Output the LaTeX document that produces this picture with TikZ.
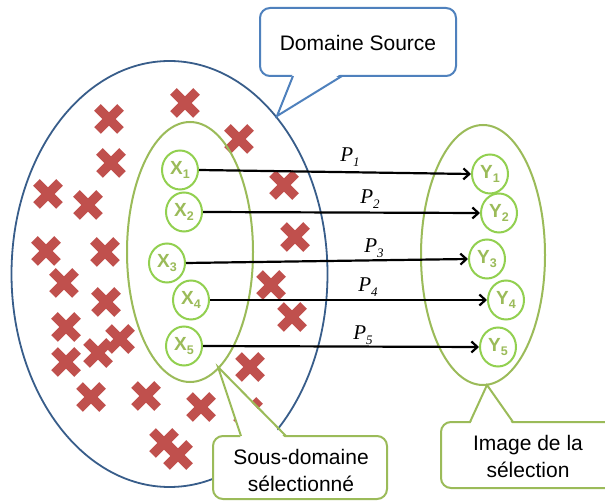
\documentclass[tikz,border=0pt]{standalone}
\usepackage{fontspec}
\setmainfont{Liberation Sans}
\newfontfamily\seriffam{Liberation Serif}
\usetikzlibrary{arrows.meta,shapes.geometric}
\definecolor{crossred}{HTML}{C0504D}
\definecolor{olivegreen}{HTML}{9BBB59}
\definecolor{circgreen}{HTML}{92D050}
\definecolor{darkblue}{HTML}{385D8A}
\definecolor{calloutblue}{HTML}{4F81BD}
\tikzset{
  redx/.pic={\draw[crossred, line width=9.5pt, line cap=butt] (-11.5,-11.5) -- (11.5,11.5) (-11.5,11.5) -- (11.5,-11.5);},
  xnode/.style={ellipse, draw=circgreen, line width=2pt, minimum width=36pt, minimum height=39pt,
    inner sep=0pt, text=olivegreen, font=\bfseries\fontsize{19}{19}\selectfont},
  selell/.style={draw=olivegreen, line width=2pt},
  maparrow/.style={draw=black, line width=2.2pt, -{Straight Barb[length=6pt,width=11pt]}},
  plabel/.style={font=\seriffam\itshape\fontsize{21}{21}\selectfont, inner sep=0pt},
  calltext/.style={align=center, font=\fontsize{21}{27}\selectfont, inner sep=0pt},
}
\newcommand\sub[1]{\raisebox{-4pt}{\fontsize{12.5}{12.5}\selectfont #1}}
\newcommand\psub[1]{\raisebox{-4.5pt}{\fontsize{13}{13}\selectfont\itshape #1}}
\begin{document}
\begin{tikzpicture}[x=1pt,y=-1pt]
\useasboundingbox (0,0) rectangle (605,502);
\fill[white] (0,0) rectangle (605,502);
% source domain
\draw[darkblue, line width=1.8pt] (169.5,274) ellipse [x radius=158, y radius=213];
% crosses
\foreach \p in {(185,103),(109,119),(239,139),(111,163),(48,194),(88,205),(284,185),(295,237),
  (46,251),(105,252),(64,283),(106,302),(271,285),(292,317),(66,327),(120,339),(98,353),(66,362),
  (250,367),(91,397),(146,396),(201,407),(164,443),(178,455),(248,412)}
  \pic at \p {redx};
% selection ellipses
\draw[selell] (190,252) ellipse [x radius=63, y radius=130];
\draw[selell] (483,255) ellipse [x radius=62, y radius=130];
% nodes
\node[xnode] (x1) at (180,170) {X\sub{1}};
\node[xnode] (x2) at (184,212) {X\sub{2}};
\node[xnode] (x3) at (167,263) {X\sub{3}};
\node[xnode] (x4) at (191,300) {X\sub{4}};
\node[xnode] (x5) at (184,346) {X\sub{5}};
\node[xnode] (y1) at (490,174) {Y\sub{1}};
\node[xnode] (y2) at (499,213) {Y\sub{2}};
\node[xnode] (y3) at (487,259) {Y\sub{3}};
\node[xnode] (y4) at (506,300) {Y\sub{4}};
\node[xnode] (y5) at (498,347) {Y\sub{5}};
% arrows
\draw[maparrow] (x1.east) -- (y1.west);
\draw[maparrow] (x2.east) -- (y2.west);
\draw[maparrow] (x3.east) -- (y3.west);
\draw[maparrow] (x4.east) -- (y4.west);
\draw[maparrow] (x5.east) -- (y5.west);
\node[plabel] (p1) at (350,157) {P\psub{1}};
\node[plabel] (p2) at (370,199) {P\psub{2}};
\node[plabel] (p3) at (374,248) {P\psub{3}};
\node[plabel] (p4) at (368,287) {P\psub{4}};
\node[plabel] (p5) at (363,335) {P\psub{5}};
% callout: Domaine Source
\filldraw[draw=calloutblue, fill=white, line width=2pt, rounded corners=10pt] (260,8) rectangle (456,76);
\fill[white] (293,73) -- (277,116) -- (342,73) -- cycle;
\draw[calloutblue, line width=2pt, line join=miter] (293,76) -- (277,116) -- (342,76);
\node[calltext] (src) at (358,43) {Domaine Source};
% callout: Sous-domaine
\filldraw[draw=olivegreen, fill=white, line width=2pt, rounded corners=10pt] (213,436) rectangle (387,499);
\fill[white] (241,439) -- (218,367) -- (286,439) -- cycle;
\draw[olivegreen, line width=2pt, line join=miter] (241,436) -- (218,367) -- (286,436);
\node[calltext] (sub) at (301,470) {Sous-domaine\\sélectionné};
% callout: Image
\filldraw[draw=olivegreen, fill=white, line width=2pt, rounded corners=10pt] (441,422) rectangle (625,488);
\fill[white] (470,425) -- (487,385) -- (513,425) -- cycle;
\draw[olivegreen, line width=2pt, line join=miter] (470,422) -- (487,385) -- (513,422);
\node[calltext] (img) at (528,456) {Image de la\\sélection};
\end{tikzpicture}
\end{document}
